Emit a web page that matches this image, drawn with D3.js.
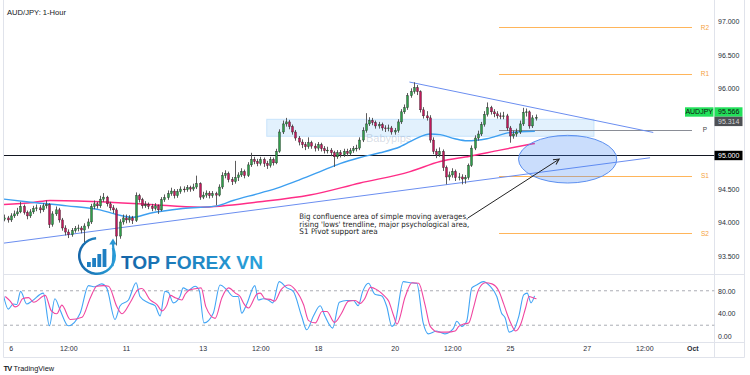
<!DOCTYPE html>
<html>
<head>
<meta charset="utf-8">
<script src="https://cdn.jsdelivr.net/npm/d3@7"></script>
<style>
  html, body { margin: 0; padding: 0; background: #fff; }
  svg { display: block; font-family: "Liberation Sans", Arial, sans-serif; }
</style>
</head>
<body>
<svg id="chart" width="750" height="375"></svg>
<script>
// 2-hour bars, bar 0 = Sep 6 00:00 (trading hours only)
const firstBar = -2;
const firstOpen = 94.05;
const closes = [
  94.07, 94.04, 94.10, 94.13, 94.16, 94.24, 94.15, 94.10, 94.16, 94.21,
  94.22, 94.19, 94.25, 94.27, 93.97, 94.13, 94.19, 94.04, 93.92, 93.86,
  93.82, 93.88, 93.91, 93.92, 93.89, 93.95, 94.01, 94.24, 94.28, 94.25,
  94.35, 94.38, 94.28, 94.22, 94.19, 93.80, 94.01, 94.07, 94.04, 94.07,
  94.03, 94.40, 94.34, 94.25, 94.27, 94.24, 94.21, 94.25, 94.19, 94.34,
  94.37, 94.43, 94.47, 94.40, 94.46, 94.50, 94.49, 94.52, 94.50, 94.53,
  94.58, 94.38, 94.41, 94.44, 94.40, 94.43, 94.41, 94.53, 94.70, 94.73,
  94.64, 94.61, 94.67, 94.71, 94.76, 94.70, 94.86, 94.94, 94.91, 94.88,
  94.94, 94.88, 94.85, 94.94, 94.89, 95.06, 95.35, 95.47, 95.50, 95.43,
  95.35, 95.26, 95.20, 95.16, 95.13, 95.19, 95.14, 95.11, 95.16, 95.10,
  95.07, 95.08, 95.04, 94.98, 95.04, 95.01, 95.06, 95.03, 95.07, 95.10,
  95.11, 95.23, 95.37, 95.47, 95.52, 95.49, 95.44, 95.46, 95.41, 95.40,
  95.41, 95.35, 95.37, 95.50, 95.65, 95.71, 95.89, 95.95, 96.01, 95.95,
  95.68, 95.59, 95.56, 95.23, 95.06, 95.01, 95.06, 94.82, 94.68, 94.71,
  94.76, 94.67, 94.68, 94.65, 94.67, 94.85, 95.11, 95.26, 95.32, 95.46,
  95.61, 95.71, 95.65, 95.62, 95.59, 95.58, 95.59, 95.41, 95.29, 95.32,
  95.35, 95.47, 95.64, 95.65, 95.44, 95.56, 95.566
];
const highs = [
  94.12, 94.10, 94.14, 94.18, 94.22, 94.31, 94.27, 94.18, 94.20, 94.25,
  94.27, 94.26, 94.29, 94.33, 94.29, 94.17, 94.24, 94.22, 94.07, 93.96,
  93.90, 93.92, 93.95, 93.97, 93.95, 93.99, 94.06, 94.28, 94.33, 94.31,
  94.40, 94.44, 94.40, 94.31, 94.26, 94.22, 94.05, 94.12, 94.12, 94.11,
  94.10, 94.45, 94.43, 94.37, 94.32, 94.30, 94.28, 94.29, 94.27, 94.38,
  94.42, 94.48, 94.52, 94.50, 94.50, 94.54, 94.54, 94.56, 94.55, 94.58,
  94.70, 94.60, 94.46, 94.48, 94.47, 94.47, 94.46, 94.57, 94.75, 94.78,
  94.76, 94.68, 94.92, 94.75, 94.81, 94.79, 94.90, 95.04, 94.98, 94.95,
  94.98, 94.97, 94.92, 94.98, 94.97, 95.10, 95.39, 95.52, 95.56, 95.53,
  95.46, 95.38, 95.29, 95.24, 95.20, 95.27, 95.22, 95.18, 95.20, 95.19,
  95.14, 95.13, 95.11, 95.07, 95.08, 95.08, 95.10, 95.10, 95.11, 95.14,
  95.16, 95.27, 95.42, 95.63, 95.57, 95.56, 95.52, 95.50, 95.49, 95.45,
  95.46, 95.44, 95.41, 95.54, 95.69, 95.76, 95.93, 96.00, 96.09, 96.05,
  95.97, 95.72, 95.66, 95.60, 95.27, 95.10, 95.12, 95.09, 94.85, 94.76,
  94.81, 94.79, 94.74, 94.72, 94.71, 94.88, 95.15, 95.30, 95.37, 95.50,
  95.66, 95.79, 95.74, 95.69, 95.66, 95.64, 95.65, 95.62, 95.44, 95.37,
  95.40, 95.52, 95.71, 95.70, 95.67, 95.60, 95.61
];
const lows = [
  94.02, 94.00, 94.01, 94.07, 94.10, 94.14, 94.12, 94.05, 94.07, 94.13,
  94.17, 94.14, 94.16, 94.21, 93.92, 93.94, 94.10, 94.00, 93.88, 93.81,
  93.77, 93.79, 93.85, 93.87, 93.84, 93.70, 93.91, 93.98, 94.20, 94.21,
  94.22, 94.31, 94.24, 94.18, 94.14, 93.66, 93.76, 93.97, 93.99, 94.00,
  93.98, 94.01, 94.30, 94.21, 94.22, 94.20, 94.17, 94.18, 94.13, 94.17,
  94.31, 94.34, 94.40, 94.36, 94.37, 94.43, 94.45, 94.46, 94.46, 94.47,
  94.50, 94.34, 94.35, 94.37, 94.36, 94.37, 94.26, 94.39, 94.50, 94.66,
  94.60, 94.56, 94.58, 94.62, 94.68, 94.66, 94.68, 94.83, 94.87, 94.84,
  94.85, 94.83, 94.80, 94.82, 94.85, 94.87, 95.04, 95.32, 95.43, 95.39,
  95.31, 95.22, 95.15, 95.11, 95.08, 95.10, 95.10, 95.06, 95.07, 95.06,
  95.03, 95.03, 94.99, 94.83, 94.95, 94.97, 94.98, 94.99, 95.00, 95.04,
  95.06, 95.08, 95.20, 95.34, 95.44, 95.45, 95.40, 95.40, 95.37, 95.35,
  95.36, 95.31, 95.31, 95.34, 95.47, 95.62, 95.68, 95.86, 95.92, 95.90,
  95.64, 95.55, 95.52, 95.19, 95.02, 94.96, 94.98, 94.77, 94.57, 94.63,
  94.67, 94.62, 94.63, 94.57, 94.58, 94.64, 94.83, 95.08, 95.22, 95.29,
  95.43, 95.58, 95.61, 95.57, 95.55, 95.54, 95.54, 95.37, 95.19, 95.25,
  95.28, 95.32, 95.44, 95.58, 95.40, 95.41, 95.52
];

// moving averages, read at these bars
const smaBlueBars = [-2.1, 7, 17.6, 27.9, 33.2, 38.2, 43.5, 53.8, 64.5, 69.5, 77.9, 84.2, 90.4, 96.7, 102.9, 109.2, 115.4, 121.7, 127, 131, 134.2, 138.8, 142.6, 148.8, 156, 163.8];
const smaBlue = [94.35, 94.30, 94.25, 94.19, 94.12, 94.08, 94.14, 94.21, 94.25, 94.33, 94.44, 94.53, 94.64, 94.76, 94.88, 94.97, 95.04, 95.13, 95.26, 95.32, 95.31, 95.25, 95.22, 95.25, 95.34, 95.36];
const smaPinkBars = [-2.1, 7, 12.3, 27.9, 43.5, 59.2, 77.9, 93.5, 109.2, 124.8, 134.2, 143.5, 152.9, 163.8];
const smaPink = [94.27, 94.30, 94.33, 94.31, 94.27, 94.23, 94.31, 94.41, 94.59, 94.76, 94.91, 94.99, 95.08, 95.18];

// stochastic oscillator
const stochBars = [-2.3, -0.75, 0.8, 1.9, 3.1, 5, 6.6, 10.2, 12.1, 13.8, 15.4, 18, 21.7, 24.3, 26.3, 28.4, 30, 32.6, 34.2, 36.8,
  39.2, 40.4, 43, 45.1, 46.7, 48.2, 49.3, 50.8, 52.9, 53.9, 55.5, 57.6, 58.9, 60.4, 63.3, 65.4, 67.5, 69.6, 71.1, 72.2,
  73.7, 76.3, 77.4, 78.9, 80.5, 81.9, 83.9, 86.3, 88.3, 90.9, 92.5, 94.6, 96.7, 98.2, 100.6, 102.7, 105, 107.1, 108.6, 110,
  111.8, 113.8, 116, 117.5, 119.1, 120.1, 122.7, 124.8, 126.9, 128.9, 130.5, 133.1, 135.7, 138.3, 139.4, 140.9, 142.5, 144.1, 145.6, 147.7,
  149.8, 151.9, 153.4, 154.5, 155.8, 157.2, 158.8, 160.3, 161.4, 162.6, 163.7];
const stochK = [73, 48, 57, 56, 79, 57, 62, 76, 19, 66, 47, 19, 41, 89, 87, 92, 85, 30, 54, 64,
  94, 70, 59, 54, 36, 79, 77, 59, 70, 85, 81, 88, 81, 24, 41, 90, 82, 70, 70, 41,
  56, 89, 64, 66, 64, 59, 96, 85, 79, 36, 12, 36, 54, 36, 15, 60, 63, 63, 54, 79,
  93, 74, 71, 53, 18, 24, 96, 94, 93, 24, 5, 10, 5, 14, 27, 18, 27, 85, 90, 96,
  88, 70, 41, 33, 8, 12, 36, 73, 76, 59, 71];
const stochD = [70, 62, 52, 55, 66, 68, 60, 72, 45, 40, 55, 30, 34, 68, 88, 89, 88, 52, 40, 60,
  82, 84, 64, 56, 45, 55, 72, 68, 64, 74, 82, 84, 85, 52, 32, 68, 85, 76, 70, 58,
  50, 74, 76, 66, 65, 62, 82, 90, 82, 56, 28, 24, 44, 44, 25, 40, 62, 63, 58, 66,
  86, 82, 72, 62, 36, 22, 70, 94, 93, 55, 18, 8, 8, 10, 18, 22, 24, 52, 82, 94,
  92, 80, 58, 40, 22, 10, 22, 50, 70, 68, 66];

// pivot levels
const pivotNames = ["R2", "R1", "P", "S1", "S2"];
const pivotLevels = [96.91, 96.22, 95.38, 94.70, 93.84];
const pivotSpan = [152.6, 212.9];

// drawings
const zoneBars = [80, 182.3];
const zonePrices = [95.285, 95.54];
const lowsTrend = [[-2.1, 93.695], [199.8, 94.966]];
const highsTrend = [[124.6, 96.094], [200.8, 95.343]];
const ellipseBars = [158.7, 189.4];
const ellipsePrices = [94.59, 95.30];
const arrowLine = [[142.9, 94.07], [171.4, 94.946]];
const psychLevel = 95.0;
const lastPrice = 95.566;
const secondLabel = 95.314;

// axes
const priceTicks = [97, 96.5, 96, 94.5, 94, 93.5];
const oscTicks = [80, 40, 0];
const timeTickBars = [0, 18, 36, 60, 78, 96, 120, 138, 156, 180, 198, 213];
const timeTickLabels = ["6", "12:00", "11", "13", "12:00", "18", "20", "12:00", "25", "27", "12:00", "Oct"];
const noteLines = [
  "Big confluence area of simple moving averages,",
  "rising 'lows' trendline, major psychological area,",
  "S1 Pivot support area"
];

const svg = d3.select("#chart");
const x = d3.scaleLinear().domain([0, 213]).range([10.7, 692.3]);
const y = d3.scaleLinear().domain([93.5, 97]).range([256.2, 21.2]);
const yOsc = d3.scaleLinear().domain([0, 100]).range([336.7, 279.3]);

const plotLeft = 4, plotRight = 714.5, paneSplit = 274, timeTop = 342, frameBottom = 357.5, frameRight = 744.5;

const defs = svg.append("defs");
defs.append("clipPath").attr("id", "clipPrice")
  .append("rect").attr("x", plotLeft).attr("y", 0).attr("width", plotRight - plotLeft).attr("height", paneSplit);
defs.append("clipPath").attr("id", "clipOsc")
  .append("rect").attr("x", plotLeft).attr("y", paneSplit).attr("width", plotRight - plotLeft).attr("height", timeTop - paneSplit);
defs.append("marker")
  .attr("id", "arrowHead")
  .attr("viewBox", "0 0 10 10")
  .attr("refX", 9).attr("refY", 5)
  .attr("markerWidth", 7).attr("markerHeight", 7)
  .attr("markerUnits", "userSpaceOnUse")
  .attr("orient", "auto")
  .append("path")
  .attr("d", "M1,1 L9,5 L1,9")
  .attr("fill", "none")
  .attr("stroke", "#222")
  .attr("stroke-width", 1.4);
const grad = defs.append("linearGradient").attr("id", "logoGrad")
  .attr("x1", "0").attr("y1", "0").attr("x2", "1").attr("y2", "0");
grad.append("stop").attr("offset", "0%").attr("stop-color", "#1565a8");
grad.append("stop").attr("offset", "100%").attr("stop-color", "#2aa3dc");

// frame
const frame = svg.append("g").attr("stroke", "#e0e3eb").attr("stroke-width", 1);
frame.append("line").attr("x1", 3.5).attr("x2", 3.5).attr("y1", 0).attr("y2", frameBottom);
frame.append("line").attr("x1", plotRight).attr("x2", plotRight).attr("y1", 0).attr("y2", frameBottom);
frame.append("line").attr("x1", frameRight).attr("x2", frameRight).attr("y1", 0).attr("y2", frameBottom);
frame.append("line").attr("x1", 3.5).attr("x2", frameRight).attr("y1", paneSplit + 0.5).attr("y2", paneSplit + 0.5);
frame.append("line").attr("x1", 3.5).attr("x2", frameRight).attr("y1", timeTop + 0.5).attr("y2", timeTop + 0.5);
frame.append("line").attr("x1", 3.5).attr("x2", frameRight).attr("y1", frameBottom).attr("y2", frameBottom);

// price pane
const pane = svg.append("g").attr("clip-path", "url(#clipPrice)");

pane.append("rect")
  .attr("x", x(zoneBars[0]))
  .attr("y", y(zonePrices[1]))
  .attr("width", x(zoneBars[1]) - x(zoneBars[0]))
  .attr("height", y(zonePrices[0]) - y(zonePrices[1]))
  .attr("fill", "rgba(33,150,243,0.13)")
  .attr("stroke", "rgba(33,150,243,0.18)");

pane.append("text")
  .attr("x", 366).attr("y", 142)
  .attr("font-size", 11)
  .attr("fill", "rgba(110,130,160,0.28)")
  .text("Babypips");

pane.append("g").selectAll("line")
  .data(pivotLevels)
  .join("line")
  .attr("x1", x(pivotSpan[0])).attr("x2", x(pivotSpan[1]))
  .attr("y1", (d) => Math.round(y(d)) + 0.5).attr("y2", (d) => Math.round(y(d)) + 0.5)
  .attr("stroke", (d, i) => (pivotNames[i] === "P" ? "#8a8d96" : "#ffb55a"))
  .attr("stroke-width", 1.1);

pane.append("line")
  .attr("x1", plotLeft).attr("x2", plotRight)
  .attr("y1", y(psychLevel)).attr("y2", y(psychLevel))
  .attr("stroke", "#131722").attr("stroke-width", 1.2);

const line = d3.line().x((d) => x(d[0])).y((d) => y(d[1]));
const smooth = d3.line().x((d) => x(d[0])).y((d) => y(d[1])).curve(d3.curveMonotoneX);

pane.append("path")
  .attr("d", smooth(d3.zip(smaPinkBars, smaPink)))
  .attr("fill", "none").attr("stroke", "#ff2d87").attr("stroke-width", 1.5);
pane.append("path")
  .attr("d", smooth(d3.zip(smaBlueBars, smaBlue)))
  .attr("fill", "none").attr("stroke", "#3d9ff0").attr("stroke-width", 1.4);

[lowsTrend, highsTrend].forEach((t) => {
  pane.append("path")
    .attr("d", line(t))
    .attr("fill", "none").attr("stroke", "#6b8ef0").attr("stroke-width", 1);
});

// candles
const bars = closes.map((c, i) => ({
  bar: firstBar + i,
  open: i === 0 ? firstOpen : closes[i - 1],
  close: c,
  high: highs[i],
  low: lows[i]
}));

const candles = pane.append("g");
candles.selectAll("line")
  .data(bars)
  .join("line")
  .attr("x1", (d) => Math.round(x(d.bar)) + 0.5)
  .attr("x2", (d) => Math.round(x(d.bar)) + 0.5)
  .attr("y1", (d) => y(d.high))
  .attr("y2", (d) => y(d.low))
  .attr("stroke", "#4a4a4a")
  .attr("stroke-width", 0.9);
candles.selectAll("rect")
  .data(bars)
  .join("rect")
  .attr("x", (d) => Math.round(x(d.bar)) - 0.5)
  .attr("width", 2)
  .attr("y", (d) => y(Math.max(d.open, d.close)))
  .attr("height", (d) => Math.max(0.8, Math.abs(y(d.open) - y(d.close))))
  .attr("fill", (d) => (d.close >= d.open ? "#2f9e4a" : "#c2185b"))
  .attr("stroke", "#1b1b1b")
  .attr("stroke-width", 0.35);

// ellipse
pane.append("ellipse")
  .attr("cx", (x(ellipseBars[0]) + x(ellipseBars[1])) / 2)
  .attr("cy", (y(ellipsePrices[0]) + y(ellipsePrices[1])) / 2)
  .attr("rx", (x(ellipseBars[1]) - x(ellipseBars[0])) / 2)
  .attr("ry", (y(ellipsePrices[0]) - y(ellipsePrices[1])) / 2)
  .attr("fill", "rgba(66,133,244,0.28)")
  .attr("stroke", "#5b8ff0")
  .attr("stroke-width", 1);

pane.append("path")
  .attr("d", line(arrowLine))
  .attr("fill", "none")
  .attr("stroke", "#222")
  .attr("stroke-width", 1)
  .attr("marker-end", "url(#arrowHead)");

// note
const note = svg.append("text")
  .attr("font-family", "'DejaVu Sans', sans-serif")
  .attr("font-size", 7.6)
  .attr("fill", "#1e1e1e");
const noteWidths = [169, 170, 78.4];
noteLines.forEach((t, i) => {
  note.append("tspan")
    .attr("x", 299.3)
    .attr("y", 218.8 + i * 7.8)
    .attr("textLength", noteWidths[i])
    .attr("lengthAdjust", "spacingAndGlyphs")
    .text(t);
});

// pivot labels
svg.append("g").selectAll("text")
  .data(pivotLevels)
  .join("text")
  .attr("x", 705)
  .attr("y", (d) => y(d))
  .attr("dy", "0.35em")
  .attr("text-anchor", "middle")
  .attr("font-size", 6.5)
  .attr("fill", (d, i) => (pivotNames[i] === "P" ? "#444" : "#f5a23c"))
  .text((d, i) => pivotNames[i]);

// logo
const logo = svg.append("g");
logo.append("path")
  .attr("d", d3.arc()({ innerRadius: 16.5, outerRadius: 19, startAngle: 0.35 * Math.PI, endAngle: 2.0 * Math.PI - 0.05 }))
  .attr("transform", "translate(97,256)")
  .attr("fill", "url(#logoGrad)");
const logoBars = [5, 9, 13, 18];
logo.selectAll("rect.lb")
  .data(logoBars)
  .join("rect")
  .attr("x", (d, i) => 87 + i * 5.2)
  .attr("y", (d) => 267 - d)
  .attr("width", 3.8)
  .attr("height", (d) => d)
  .attr("fill", "#1e7fc2");
logo.append("path")
  .attr("d", "M112.5,266 C113.5,258 113.5,250 113,243")
  .attr("fill", "none").attr("stroke", "#2a96d3").attr("stroke-width", 2.2);
logo.append("path")
  .attr("d", "M109.3,244.5 L113,238.5 L116.5,244.5 Z")
  .attr("fill", "#2a96d3");
logo.append("text")
  .attr("x", 121).attr("y", 269)
  .attr("font-family", "'Liberation Sans', Arial, sans-serif")
  .attr("font-weight", "bold")
  .attr("font-size", 18.6)
  .attr("textLength", 142)
  .attr("lengthAdjust", "spacingAndGlyphs")
  .attr("fill", "url(#logoGrad)")
  .text("TOP FOREX VN");

// oscillator pane
const osc = svg.append("g").attr("clip-path", "url(#clipOsc)");
[80, 20].forEach((lvl) => {
  osc.append("line")
    .attr("x1", plotLeft).attr("x2", plotRight)
    .attr("y1", yOsc(lvl)).attr("y2", yOsc(lvl))
    .attr("stroke", "#9598a1").attr("stroke-width", 0.8)
    .attr("stroke-dasharray", "3,3");
});
const oscLine = d3.line().x((d) => x(d[0])).y((d) => yOsc(d[1])).curve(d3.curveMonotoneX);
osc.append("path")
  .attr("d", oscLine(d3.zip(stochBars, stochK)))
  .attr("fill", "none").attr("stroke", "#42a5f5").attr("stroke-width", 1.1);
osc.append("path")
  .attr("d", oscLine(d3.zip(stochBars.map((b) => b + 0.6), stochD)))
  .attr("fill", "none").attr("stroke", "#f046a0").attr("stroke-width", 1.1);

// axes
const priceAxis = svg.append("g")
  .attr("transform", "translate(718,0)")
  .call(d3.axisRight(y).tickValues(priceTicks).tickFormat(d3.format(".3f")).tickSize(0).tickPadding(0));
const oscAxis = svg.append("g")
  .attr("transform", "translate(718,0)")
  .call(d3.axisRight(yOsc).tickValues(oscTicks).tickFormat(d3.format(".2f")).tickSize(0).tickPadding(0));
const timeAxis = svg.append("g")
  .attr("transform", "translate(0,346)")
  .call(d3.axisBottom(x).tickValues(timeTickBars).tickFormat((d, i) => timeTickLabels[i]).tickSize(0).tickPadding(0));
[priceAxis, oscAxis, timeAxis].forEach((a) => {
  a.select(".domain").remove();
  a.selectAll("text")
    .attr("font-family", "'Liberation Sans', Arial, sans-serif")
    .attr("font-size", 7)
    .attr("fill", "#2a2e39");
});
timeAxis.selectAll("text")
  .attr("font-weight", (d, i) => (timeTickLabels[i] === "Oct" ? "bold" : "normal"));

// price labels
const labelH = 9.4;
const lastY = y(lastPrice) - 5.5;
const labels = svg.append("g").attr("font-size", 7).attr("font-family", "'Liberation Sans', Arial, sans-serif");
labels.append("rect").attr("x", 685).attr("y", lastY - labelH / 2).attr("width", 28.5).attr("height", labelH).attr("fill", "#22e05a");
labels.append("text").attr("x", 699.2).attr("y", lastY).attr("dy", "0.35em").attr("text-anchor", "middle").attr("fill", "#111").text("AUDJPY");
labels.append("rect").attr("x", 714.5).attr("y", lastY - labelH / 2).attr("width", 28).attr("height", labelH).attr("fill", "#22e05a");
labels.append("text").attr("x", 718).attr("y", lastY).attr("dy", "0.35em").attr("fill", "#111").text(d3.format(".3f")(lastPrice));
labels.append("rect").attr("x", 714.5).attr("y", lastY + labelH / 2).attr("width", 28).attr("height", labelH).attr("fill", "#4e5055");
labels.append("text").attr("x", 718).attr("y", lastY + labelH).attr("dy", "0.35em").attr("fill", "#d6d6d6").text(d3.format(".3f")(secondLabel));
labels.append("rect").attr("x", 714.5).attr("y", y(psychLevel) - labelH / 2).attr("width", 28).attr("height", labelH).attr("fill", "#000");
labels.append("text").attr("x", 718).attr("y", y(psychLevel)).attr("dy", "0.35em").attr("fill", "#fff").text(d3.format(".3f")(psychLevel));

// title + footer
svg.append("text")
  .attr("x", 7).attr("y", 14.5)
  .attr("font-size", 7.6)
  .attr("fill", "#131722")
  .text("AUD/JPY: 1-Hour");
svg.append("text")
  .attr("x", 3.5).attr("y", 370.5)
  .attr("font-size", 7.5)
  .attr("font-weight", "bold")
  .attr("letter-spacing", -0.8)
  .attr("fill", "#131722")
  .text("TV");
svg.append("text")
  .attr("x", 13.5).attr("y", 370.5)
  .attr("font-size", 7.4)
  .attr("fill", "#131722")
  .text("TradingView");
</script>
</body>
</html>
